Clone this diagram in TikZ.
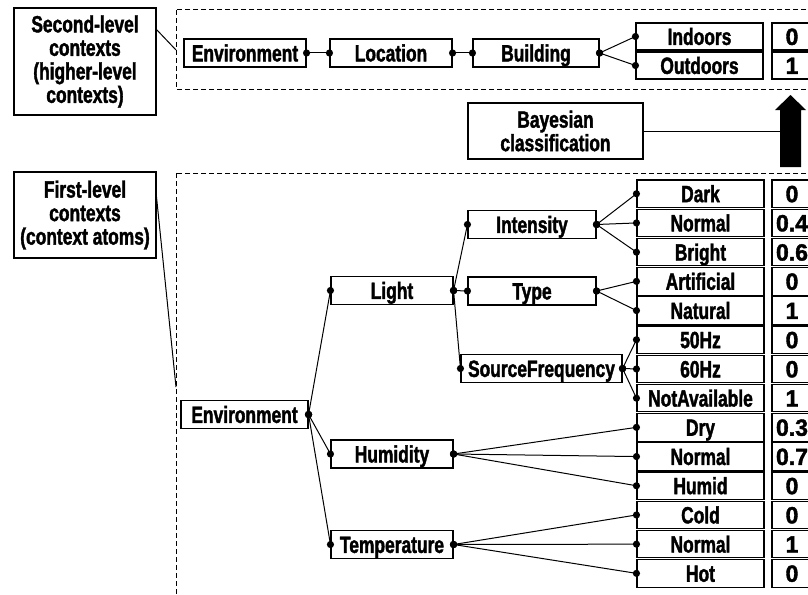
\documentclass[tikz,border=0pt]{standalone}
\usepackage{fontspec}
\setmainfont{Liberation Sans}[FakeStretch=0.74, BoldFeatures={FakeBold=1.6}]
\newfontfamily\numfont{Liberation Sans}[FakeStretch=0.98, BoldFeatures={FakeBold=1.6}]
\newcommand\dlink[2]{\draw[conn] (#1) -- (#2); \fill (#1) circle[radius=3.6pt]; \fill (#2) circle[radius=3.6pt];}
\begin{document}
\begin{tikzpicture}[x=1pt,y=-1pt,
  frame/.style={draw, line width=1.1pt, inner sep=0pt, font=\bfseries\fontsize{23.5}{23.5}\selectfont, align=center},
  box/.style={frame, minimum height=27.5pt, text height=16.8pt, text depth=0pt},
  valbox/.style={box, minimum width=40pt, font=\numfont\bfseries\fontsize{23.5}{23.5}\selectfont},
  dashbox/.style={draw, line width=1pt, dash pattern=on 5pt off 3pt},
  conn/.style={line width=1pt},
  ]
\useasboundingbox (0,0) rectangle (808,594);
\fill[white] (0,0) rectangle (808,594);
\clip (0,0) rectangle (808,594);

% dashed frames
\draw[dashbox] (176,10) rectangle (840,89);
\draw[dashbox] (176,173) rectangle (840,640);

% labels
\node[frame, minimum width=142pt, minimum height=107pt] (lab2) at (85,61.5) {Second-level\\contexts\\(higher-level\\contexts)};
\node[frame, minimum width=142pt, minimum height=86pt] (lab1) at (85,215) {First-level\\contexts\\(context atoms)};
\coordinate (l2s) at (156,29);
\coordinate (l2e) at (176,50);
\draw[conn] (l2s) -- (l2e);
\coordinate (l1s) at (156,192);
\coordinate (l1e) at (176,387);
\draw[conn] (l1s) -- (l1e);

% top row
\node[box, minimum width=122pt, minimum height=28pt] (envT) at (245,53) {Environment};
\node[box, minimum width=122pt, minimum height=28pt] (loc) at (391,53) {Location};
\node[box, minimum width=126pt, minimum height=28pt] (bld) at (536,53) {Building};
\node[box, minimum width=127pt, minimum height=27pt] (ind) at (699.5,36.5) {Indoors};
\node[box, minimum width=127pt, minimum height=27pt] (outd) at (699.5,65.5) {Outdoors};
\node[valbox, minimum height=27pt] (vind) at (792,36.5) {0};
\node[valbox, minimum height=27pt] (voutd) at (792,65.5) {1};
\dlink{envT.east}{loc.west}
\dlink{loc.east}{bld.west}
\dlink{bld.east}{ind.west}
\dlink{bld.east}{outd.west}

% Bayesian classification
\node[frame, minimum width=175pt, minimum height=56pt] (bayes) at (555.5,131) {Bayesian\\classification};
\fill (780,167) -- (780,110) -- (775,110) -- (790.5,95) -- (806,110) -- (801,110) -- (801,167) -- cycle;
\coordinate (shaft) at (780,131);
\draw[conn] (bayes.east) -- (shaft);

% lower tree
\node[box, minimum width=127pt] (envL) at (244.5,414.5) {Environment};
\node[box, minimum width=122pt] (light) at (392,290.5) {Light};
\node[box, minimum width=122pt, minimum height=28pt] (hum) at (392,454) {Humidity};
\node[box, minimum width=122pt] (temp) at (392,544.5) {Temperature};
\node[box, minimum width=128pt] (int) at (532,224.5) {Intensity};
\node[box, minimum width=128pt, minimum height=28pt] (type) at (532,291) {Type};
\node[box, minimum width=161pt] (sf) at (541.5,368.5) {SourceFrequency};

\foreach \t [count=\i from 0] in {Dark,Normal,Bright,Artificial,Natural,50Hz,60Hz,NotAvailable,Dry,Normal,Humid,Cold,Normal,Hot}
  \node[box, minimum width=127pt] (leaf\i) at (700.5,{193.75+29.2*\i}) {\t};
\foreach \v [count=\i from 0] in {0,0.4,0.6,0,1,0,0,1,0.3,0.7,0,0,1,0}
  \node[valbox] (val\i) at (792,{193.75+29.2*\i}) {\v};

\dlink{envL.east}{light.west}
\dlink{envL.east}{hum.west}
\dlink{envL.east}{temp.west}
\dlink{light.east}{int.west}
\dlink{light.east}{type.west}
\dlink{light.east}{sf.west}
\dlink{int.east}{leaf0.west}
\dlink{int.east}{leaf1.west}
\dlink{int.east}{leaf2.west}
\dlink{type.east}{leaf3.west}
\dlink{type.east}{leaf4.west}
\dlink{sf.east}{leaf5.west}
\dlink{sf.east}{leaf6.west}
\dlink{sf.east}{leaf7.west}
\dlink{hum.east}{leaf8.west}
\dlink{hum.east}{leaf9.west}
\dlink{hum.east}{leaf10.west}
\dlink{temp.east}{leaf11.west}
\dlink{temp.east}{leaf12.west}
\dlink{temp.east}{leaf13.west}
\end{tikzpicture}
\end{document}
